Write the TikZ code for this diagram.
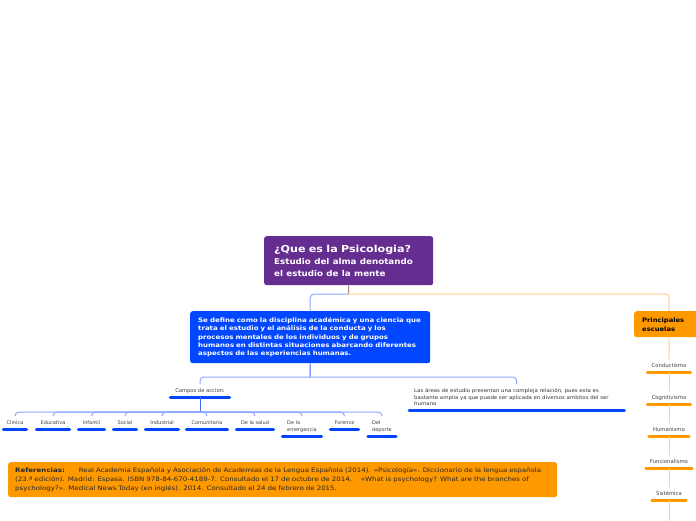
\documentclass[tikz,border=0pt]{standalone}
\usepackage{fontspec}
\setmainfont{DejaVu Sans}
\newfontfamily\widea[FakeStretch=1.16]{DejaVu Sans}
\newfontfamily\wideb[FakeStretch=1.13]{DejaVu Sans}
\newfontfamily\widec[FakeStretch=1.155]{DejaVu Sans}
\newfontfamily\wided[FakeStretch=1.09]{DejaVu Sans}
\definecolor{cpurple}{HTML}{662D91}
\definecolor{cblue}{HTML}{0047FF}
\definecolor{corange}{HTML}{FF9900}
\definecolor{lblue}{HTML}{8CA8FF}
\definecolor{mblue}{HTML}{3D6BFF}
\definecolor{lorange}{HTML}{FFCF85}
\definecolor{cstem}{HTML}{B08A6A}
\begin{document}
\begin{tikzpicture}[x=1pt,y=-1pt,
  box/.style={rounded corners=2.5pt, anchor=north west, inner ysep=0pt, align=left},
  ublue/.style={line width=3pt, cblue, line cap=round},
  uorange/.style={line width=3pt, corange, line cap=round},
  itemb/.style={anchor=north, inner xsep=0pt, inner ysep=4pt, text height=3.8pt, text depth=1.2pt,
     font=\fontsize{5}{7}\selectfont, text=black!75,
     append after command={(\tikzlastnode.south west) edge[ublue] (\tikzlastnode.south east)}},
  itembb/.style={anchor=north, inner xsep=0pt, inner ysep=4pt, align=left,
     font=\fontsize{5}{7}\selectfont, text=black!75,
     append after command={(\tikzlastnode.south west) edge[ublue] (\tikzlastnode.south east)}},
  itemo/.style={anchor=north, inner xsep=0pt, inner ysep=4pt, text height=3.8pt, text depth=1.2pt,
     font=\fontsize{5.3}{7}\selectfont, text=black!75,
     append after command={(\tikzlastnode.south west) edge[uorange] (\tikzlastnode.south east)}},
  bconn/.style={draw=lblue, line width=1pt, rounded corners=4pt},
  sconn/.style={draw=mblue, line width=1pt},
  oconn/.style={draw=lorange, line width=1pt, rounded corners=4pt},
]
\useasboundingbox[fill=white] (0,0) rectangle (696,520);

% main boxes
\node[box, fill=cpurple, text=white, minimum width=169pt, minimum height=49pt, inner xsep=10pt, text width=149pt] (p) at (264,236)
  {{\widea\fontsize{9.6}{13}\selectfont\bfseries ¿Que es la Psicologia?}\\[1.5pt]
   {\wided\fontsize{8}{11}\selectfont\bfseries Estudio del alma denotando\\el estudio de la mente}};

\node[box, fill=cblue, text=white, minimum width=240pt, minimum height=52pt, inner xsep=8pt, text width=224pt,
  font=\wideb\fontsize{6.2}{8.3}\selectfont\bfseries] (b) at (190,311)
  {Se define como la disciplina académica y una ciencia que\\
   trata el estudio y el análisis de la conducta y los\\
   procesos mentales de los individuos y de grupos\\
   humanos en distintas situaciones abarcando diferentes\\
   aspectos de las experiencias humanas.};

\node[box, fill=corange, text=black, minimum width=70pt, minimum height=26pt, inner xsep=8pt, text width=54pt,
  font=\wided\fontsize{6.2}{9}\selectfont\bfseries] (o) at (634,311)
  {Principales\\escuelas};

\node[box, fill=corange, text=black!85, minimum width=549pt, minimum height=35pt, inner xsep=7pt, text width=535pt,
  font=\widec\fontsize{6.1}{9}\selectfont] (r) at (8,462)
  {\textbf{Referencias:}\hspace{14pt}Real Academia Española y Asociación de Academias de la Lengua Española (2014). «Psicología». Diccionario de la lengua española\\
   (23.ª edición). Madrid: Espasa. ISBN 978-84-670-4189-7. Consultado el 17 de octubre de 2014.\hspace{9pt}«What is psychology? What are the branches of\\
   psychology?». Medical News Today (en inglés). 2014. Consultado el 24 de febrero de 2015.};

% second level
\node[itemb, minimum width=59pt, font=\fontsize{5.2}{7}\selectfont] (c) at (200,384) {Campos de accion:};
\node[anchor=north west, inner xsep=5pt, inner ysep=4.5pt, text width=205pt, align=left,
  font=\wided\fontsize{5}{6.5}\selectfont, text=black!80, minimum width=215pt,
  append after command={(\tikzlastnode.south west) edge[ublue] (\tikzlastnode.south east)}] (a) at (409,384)
  {Las áreas de estudio presentan una compleja relación, pues esta es\\
   bastante amplia ya que puede ser aplicada en diversos ambitos del ser\\
   humano};

% children of campos
\node[itemb, minimum width=23pt] (k1) at (15,416) {Clinica};
\node[itemb, minimum width=33pt] (k2) at (53,416) {Educativa};
\node[itemb, minimum width=26pt] (k3) at (91.5,416) {Infantil};
\node[itemb, minimum width=23pt] (k4) at (125,416) {Social};
\node[itemb, minimum width=33pt] (k5) at (162,416) {Industrial};
\node[itemb, minimum width=41pt] (k6) at (207,416) {Comunitaria};
\node[itemb, minimum width=37pt] (k7) at (255,416) {De la salud};
\node[itembb, minimum width=39pt] (k8) at (302,416) {De la\\emergencia};
\node[itemb, minimum width=28pt] (k9) at (344.5,416) {Forence};
\node[itembb, minimum width=28pt] (k10) at (382,416) {Del\\deporte};

% schools
\node[itemo, minimum width=43pt] (s1) at (669,359) {Conductismo};
\node[itemo, minimum width=43pt] (s2) at (669,391) {Cognitivismo};
\node[itemo, minimum width=40pt] (s3) at (669,423) {Humanismo};
\node[itemo, minimum width=46pt] (s4) at (669,455) {Funcionalismo};
\node[itemo, minimum width=34pt] (s5) at (669,487) {Sistémica};
\coordinate (send) at (669,525);

% junctions
\coordinate (jp) at (348.5,294);
\coordinate (jb) at (310,377);
\coordinate (jc) at (200,412);

% connectors
\draw[draw=cstem, line width=1pt] (p.south) -- (jp);
\draw[bconn] (jp) -| (b.north);
\draw[oconn] (jp) -| (o.north);
\draw[sconn] (b.south) -- (jb);
\draw[bconn] (jb) -| (c.north);
\draw[bconn] (jb) -| (a.north);
\draw[sconn] (c.south) -- (jc);
\foreach \k in {k1,k2,k3,k4,k5,k6,k7,k8,k9,k10}
  \draw[bconn] (jc) -| (\k.north);
\draw[oconn] (o.south) -- (s1.north);
\draw[oconn] (s1.south) -- (s2.north);
\draw[oconn] (s2.south) -- (s3.north);
\draw[oconn] (s3.south) -- (s4.north);
\draw[oconn] (s4.south) -- (s5.north);
\draw[oconn] (s5.south) -- (send);
\end{tikzpicture}
\end{document}
